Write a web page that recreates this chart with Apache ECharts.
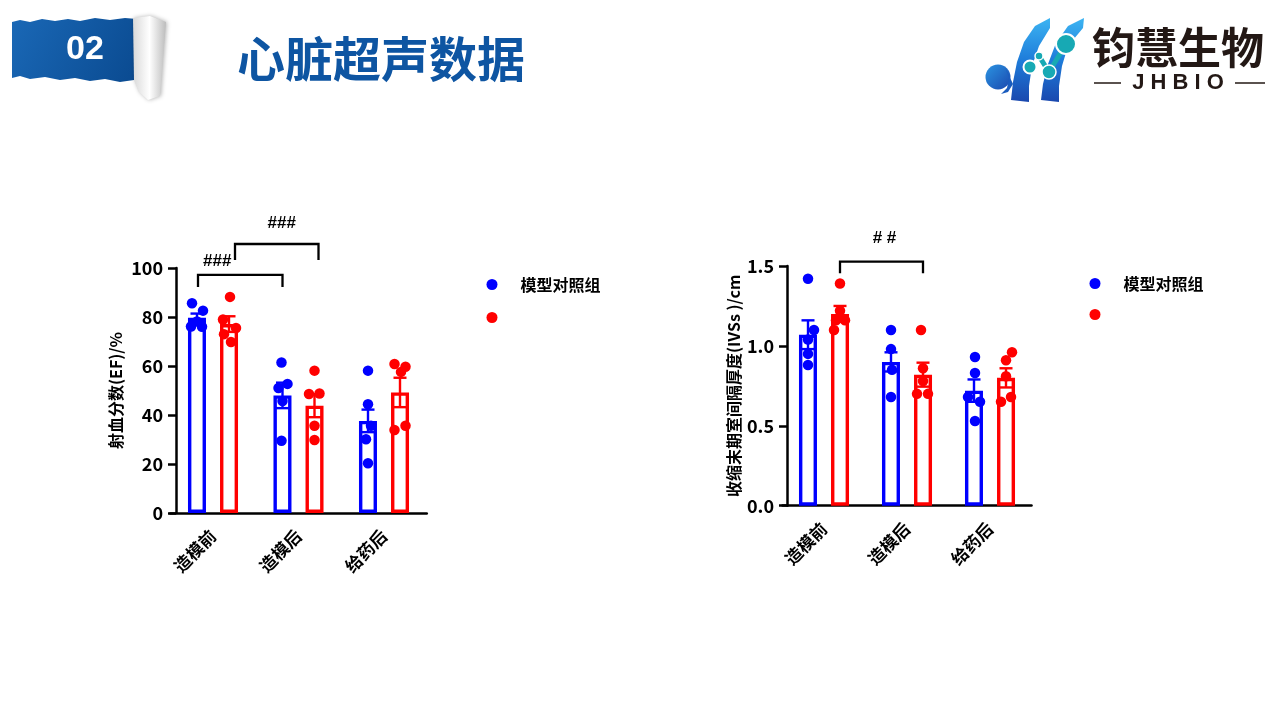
<!DOCTYPE html>
<html><head><meta charset="utf-8">
<script src="https://cdn.jsdelivr.net/npm/echarts@6/dist/echarts.min.js"></script>
<style>html,body{margin:0;padding:0;background:#fff}#c{width:1280px;height:720px}</style>
</head><body><div id="c"></div>
<script>
// ---------- data ----------
const categories = ['造模前', '造模后', '给药后'];
const seriesNames = ['模型对照组', '给药组'];

// chart 1: 射血分数(EF)/%
const efTicks = [0, 20, 40, 60, 80, 100];
const efModelMean = [79.7, 48.0, 37.6];
const efModelSem = [1.7, 5.2, 4.6];
const efDrugMean = [77.1, 43.8, 49.2];
const efDrugSem = [3.2, 4.7, 6.0];
const efModelPoints = [[85.6, 82.6, 78.2, 76.1, 76.0], [61.4, 52.7, 51.0, 45.7, 29.5], [58.1, 44.4, 35.6, 30.1, 20.3]];
const efDrugPoints = [[88.2, 79.0, 75.5, 73.0, 69.8], [58.1, 48.6, 48.8, 35.6, 29.8], [60.8, 59.7, 57.6, 33.9, 35.6]];
// brackets: [fromCategory, fromSeries, toCategory, toSeries, topValue, legValue]
const efBrackets = [[0, 0, 1, 0, 97.2, 92.2], [0, 1, 1, 1, 109.8, 103.3]];
const efBracketLabels = ['###', '###'];

// chart 2: 收缩末期室间隔厚度(IVSs )/cm
const ivsTicks = [0, 0.5, 1.0, 1.5];
const ivsModelMean = [1.07, 0.90, 0.72];
const ivsModelSem = [0.09, 0.06, 0.07];
const ivsDrugMean = [1.20, 0.82, 0.80];
const ivsDrugSem = [0.05, 0.075, 0.06];
const ivsModelPoints = [[1.42, 1.10, 1.04, 0.95, 0.88], [1.10, 0.98, 0.85, 0.68], [0.93, 0.83, 0.68, 0.65, 0.53]];
const ivsDrugPoints = [[1.39, 1.22, 1.16, 1.16, 1.10], [1.10, 0.86, 0.78, 0.70, 0.70], [0.96, 0.91, 0.81, 0.65, 0.68]];
const ivsBrackets = [[0, 1, 1, 1, 1.527, 1.455]];
const ivsBracketLabels = ['# #'];

// ---------- styling (pixel offsets for jitter etc.) ----------
const BLUE = '#0000FF', RED = '#FF0000';
const FONT = '"Noto Sans CJK SC", "Noto Sans", sans-serif';
const BAR_OFF = [-16, 16];
const efJitter = [
  [[-5, 6, 0, -6, 5], [-1, 5, -4, 0, -1], [0, 0, 3, -2, 0]],
  [[1, -6, 7, -5, 2], [0, -5.5, 5, 0, 0], [-5.5, 5.5, 1, -5.5, 5.5]]
];
const ivsJitter = [
  [[0, 6, 0, 0, 0], [0, 0, 1, 0], [1, 1, -6, 6, 1]],
  [[0, 0, 5, -4, -6], [-2, 0, 0, -6, 5], [6, 0, 0, -5, 5]]
];
// per bracket: [leftShift, rightShift, labelDx, labelGap]
const efBracketStyle = [[1, 0, -23, 5], [6, 4, 5, 12]];
const ivsBracketStyle = [[0, 0, 3, 15]];

const chart = echarts.init(document.getElementById('c'));

function meanData(mean, sem) { return mean.map((m, i) => [i, m, sem[i]]); }

function scatterData(points, jitter, s) {
  const out = [];
  points.forEach((arr, c) => arr.forEach((v, i) => {
    out.push({ value: [c, v], symbolOffset: [BAR_OFF[s] + jitter[s][c][i], 0] });
  }));
  return out;
}

function errorSeries(idx, mean, sem, s, color) {
  return {
    type: 'custom', name: seriesNames[s], xAxisIndex: idx, yAxisIndex: idx, z: 3,
    data: meanData(mean, sem), encode: { x: 0, y: 1 },
    renderItem: (params, api) => {
      const c = api.value(0), m = api.value(1), e = api.value(2);
      const top = api.coord([c, m + e]), bot = api.coord([c, m - e]);
      const x = top[0] + BAR_OFF[s], w = 6.5;
      const st = { stroke: color, lineWidth: 2.4 };
      return { type: 'group', children: [
        { type: 'line', shape: { x1: x, y1: top[1], x2: x, y2: bot[1] }, style: st },
        { type: 'line', shape: { x1: x - w, y1: top[1], x2: x + w, y2: top[1] }, style: st },
        { type: 'line', shape: { x1: x - w, y1: bot[1], x2: x + w, y2: bot[1] }, style: st }
      ]};
    }
  };
}

function bracketSeries(idx, brackets, labels, styles) {
  return {
    type: 'custom', xAxisIndex: idx, yAxisIndex: idx, z: 5, clip: false, silent: true,
    data: brackets, encode: { x: 0, y: 4 },
    renderItem: (params, api) => {
      const b = brackets[params.dataIndex];
      const st = styles[params.dataIndex];
      const p1 = api.coord([b[0], b[4]]), p2 = api.coord([b[2], b[4]]);
      const leg = api.coord([b[0], b[5]]);
      const x1 = p1[0] + BAR_OFF[b[1]] + st[0], x2 = p2[0] + BAR_OFF[b[3]] + st[1];
      const y = p1[1], yl = leg[1];
      return { type: 'group', children: [
        { type: 'polyline', shape: { points: [[x1, yl], [x1, y], [x2, y], [x2, yl]] },
          style: { stroke: '#000', lineWidth: 2.3, fill: null } },
        { type: 'text', style: { text: labels[params.dataIndex], x: (x1 + x2) / 2 + st[2], y: y - st[3],
          align: 'center', verticalAlign: 'bottom', font: 'bold 17px "Liberation Sans", Arial, sans-serif', fill: '#000' } }
      ]};
    }
  };
}

function buildSeries(idx, mMean, mSem, dMean, dSem, mPts, dPts, jitter) {
  return [
    { type: 'bar', name: seriesNames[0], xAxisIndex: idx, yAxisIndex: idx, data: mMean, barWidth: 18, barGap: '78%', z: 2,
      itemStyle: { color: '#fff', borderColor: BLUE, borderWidth: 3.4 } },
    { type: 'bar', name: seriesNames[1], xAxisIndex: idx, yAxisIndex: idx, data: dMean, barWidth: 18, barGap: '78%', z: 2,
      itemStyle: { color: '#fff', borderColor: RED, borderWidth: 3.4 } },
    errorSeries(idx, mMean, mSem, 0, BLUE),
    errorSeries(idx, dMean, dSem, 1, RED),
    { type: 'scatter', name: seriesNames[0], xAxisIndex: idx, yAxisIndex: idx, symbolSize: 10.5, z: 4,
      itemStyle: { color: BLUE, opacity: 1 }, data: scatterData(mPts, jitter, 0) },
    { type: 'scatter', name: seriesNames[1], xAxisIndex: idx, yAxisIndex: idx, symbolSize: 10.5, z: 4,
      itemStyle: { color: RED, opacity: 1 }, data: scatterData(dPts, jitter, 1) }
  ];
}

function xAxisOpt(gi) {
  return {
    type: 'category', gridIndex: gi, data: categories,
    axisLine: { lineStyle: { color: '#000', width: 2.5 } },
    axisTick: { alignWithLabel: true, length: 10, lineStyle: { color: '#000', width: 2.5 } },
    axisLabel: { rotate: 45, margin: 20, color: '#000', fontWeight: 'bold', fontSize: 17, fontFamily: FONT }
  };
}
function yAxisOpt(gi, ticks, name, gap, offset, fmt) {
  return {
    type: 'value', gridIndex: gi, min: ticks[0], max: ticks[ticks.length - 1], interval: ticks[1] - ticks[0],
    offset: offset, name: name, nameLocation: 'middle', nameGap: gap,
    nameTextStyle: { color: '#000', fontWeight: 'bold', fontSize: 16, fontFamily: FONT },
    splitLine: { show: false },
    axisLine: { show: true, lineStyle: { color: '#000', width: 2.5 } },
    axisTick: { show: true, length: 8, lineStyle: { color: '#000', width: 2.5 } },
    axisLabel: { margin: 13, color: '#000', fontWeight: 'bold', fontSize: 18, fontFamily: FONT, formatter: fmt }
  };
}

function legendOpt(left, top, gap) {
  return {
    left: left, top: top, orient: 'vertical', padding: 0, itemGap: gap,
    icon: 'circle', itemWidth: 11, itemHeight: 11,
    data: [{ name: seriesNames[0], itemStyle: { color: BLUE, borderWidth: 0 } },
           { name: seriesNames[1], itemStyle: { color: RED, borderWidth: 0 } }],
    formatter: n => n === seriesNames[0] ? n : ' ',
    selectedMode: false,
    textStyle: { color: '#000', fontWeight: 'bold', fontSize: 16, fontFamily: FONT, padding: [0, 0, 0, 18], lineHeight: 17 }
  };
}

// ---------- header graphics ----------
const logoGrad = () => new echarts.graphic.LinearGradient(0, 0, 0, 1, [{ offset: 0, color: '#3CB4F2' }, { offset: 0.5, color: '#1E7CDA' }, { offset: 1, color: '#1A48AE' }]);
const teal = '#17A9B4';
const header = [
  { type: 'polygon', z: 10, shape: { points: [[12,22],[20,20],[30,22],[42,19],[55,21],[68,19],[80,21],[95,18],[110,20],[125,18],[137,19],[134,80],[120,82],[105,79],[90,81],[75,78],[60,80],[45,77],[30,79],[20,76],[12,78]] },
    style: { fill: new echarts.graphic.LinearGradient(0, 0, 1, 1, [{ offset: 0, color: '#1A68B6' }, { offset: 1, color: '#0A4A90' }]) } },
  { type: 'polygon', z: 11, shape: { points: [[133,18],[150,16],[166,22],[160,96],[148,100],[139,92],[134,80]] },
    style: { fill: new echarts.graphic.LinearGradient(0, 0, 1, 0, [{ offset: 0, color: '#d9d9d9' }, { offset: 0.5, color: '#ffffff' }, { offset: 1, color: '#bcbcbc' }]),
      shadowBlur: 4, shadowColor: 'rgba(0,0,0,0.3)', shadowOffsetX: 1 } },
  { type: 'text', z: 12, style: { text: '02', x: 85, y: 50, align: 'center', verticalAlign: 'middle', font: 'bold 34px "Liberation Sans", Arial, sans-serif', fill: '#fff' } },
  { type: 'text', z: 12, style: { text: '心脏超声数据', x: 237, y: 59, align: 'left', verticalAlign: 'middle', font: 'bold 48px ' + FONT, fill: '#0E55A2' } },
  // logo: J stroke
  { type: 'polygon', z: 10, shape: { points: [[1050,18],[1035,26],[1024,42],[1017,62],[1013,82],[1011,100],[1029,102],[1029,86],[1032,66],[1039,46],[1050,28]] },
    style: { fill: logoGrad() } },
  // J hook (comma blob)
  { type: 'circle', z: 10, shape: { cx: 998, cy: 77, r: 12.5 },
    style: { fill: new echarts.graphic.LinearGradient(0, 0, 1, 1, [{ offset: 0, color: '#2B94E2' }, { offset: 1, color: '#1A48AE' }]) } },
  { type: 'polygon', z: 10, shape: { points: [[1005,67],[1009,78],[1007,88],[1001,94],[1008,92],[1013,84]] },
    style: { fill: '#1A5CBE' } },
  // H right stroke
  { type: 'polygon', z: 10, shape: { points: [[1084,18],[1068,26],[1056,43],[1048,64],[1043,84],[1041,100],[1059,102],[1059,86],[1062,66],[1068,46],[1083,28]] },
    style: { fill: logoGrad() } },
  // molecule
  { type: 'polyline', z: 11, shape: { points: [[1039,56],[1049,72],[1066,44]] }, style: { stroke: teal, lineWidth: 5, fill: null } },
  { type: 'circle', z: 12, shape: { cx: 1030, cy: 67, r: 6.5 }, style: { fill: teal, stroke: '#fff', lineWidth: 2 } },
  { type: 'circle', z: 12, shape: { cx: 1039, cy: 56, r: 4 }, style: { fill: teal, stroke: '#fff', lineWidth: 1.5 } },
  { type: 'circle', z: 12, shape: { cx: 1049, cy: 72, r: 7 }, style: { fill: teal, stroke: '#fff', lineWidth: 1.5 } },
  { type: 'circle', z: 12, shape: { cx: 1066, cy: 44, r: 10 }, style: { fill: teal, stroke: '#fff', lineWidth: 2 } },
  { type: 'text', z: 12, style: { text: '钧慧生物', x: 1092, y: 48, align: 'left', verticalAlign: 'middle', font: 'bold 43px ' + FONT, fill: '#231815' } },
  { type: 'text', z: 12, style: { text: 'J H B I O', x: 1178, y: 83, align: 'center', verticalAlign: 'middle', font: 'bold 22px "Liberation Sans", Arial, sans-serif', fill: '#231815' } },
  { type: 'line', z: 12, shape: { x1: 1094, y1: 83, x2: 1121, y2: 83 }, style: { stroke: '#231815', lineWidth: 1.5 } },
  { type: 'line', z: 12, shape: { x1: 1235, y1: 83, x2: 1265, y2: 83 }, style: { stroke: '#231815', lineWidth: 1.5 } }
];

const option = {
  backgroundColor: '#fff',
  animation: false,
  grid: [
    { left: 170.25, top: 268, width: 256.5, height: 245 },
    { left: 782.5, top: 266, width: 249, height: 239.7 }
  ],
  xAxis: [xAxisOpt(0), xAxisOpt(1)],
  yAxis: [
    yAxisOpt(0, efTicks, '射血分数(EF)/%', 52, -5.75, v => String(v)),
    yAxisOpt(1, ivsTicks, '收缩末期室间隔厚度(IVSs )/cm', 45, -4.5, v => v.toFixed(1))
  ],
  legend: [legendOpt(486.5, 276, 16), legendOpt(1089.5, 275, 14)],
  graphic: header,
  series: [
    ...buildSeries(0, efModelMean, efModelSem, efDrugMean, efDrugSem, efModelPoints, efDrugPoints, efJitter),
    bracketSeries(0, efBrackets, efBracketLabels, efBracketStyle),
    ...buildSeries(1, ivsModelMean, ivsModelSem, ivsDrugMean, ivsDrugSem, ivsModelPoints, ivsDrugPoints, ivsJitter),
    bracketSeries(1, ivsBrackets, ivsBracketLabels, ivsBracketStyle)
  ]
};
chart.setOption(option);
</script></body></html>
